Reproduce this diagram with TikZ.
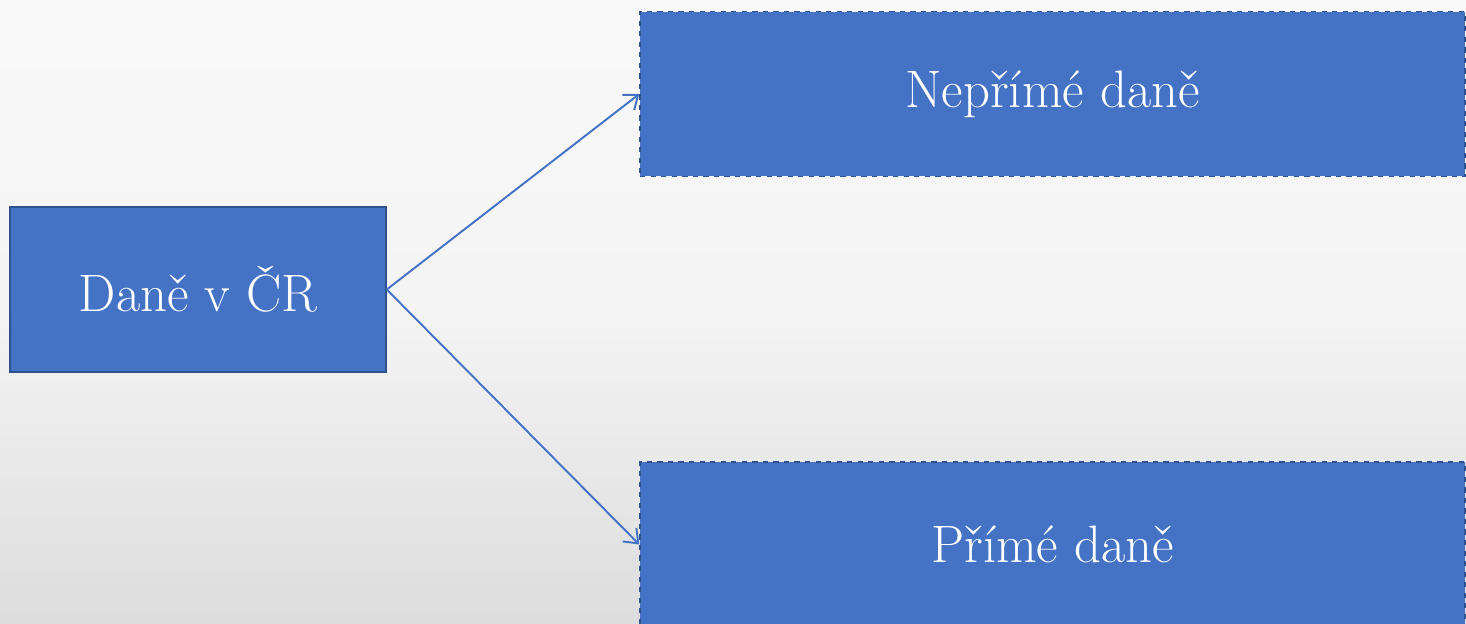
\documentclass[tikz,border=0pt]{standalone}
\usepackage{fontspec}
\usetikzlibrary{arrows.meta}
\definecolor{boxblue}{HTML}{4472C4}
\definecolor{edgeblue}{HTML}{2F528F}
\tikzset{
  taxbox/.style={rectangle, fill=boxblue, draw=edgeblue, line width=0.9pt,
    text=white, font=\fontsize{30}{34}\selectfont, inner sep=0pt},
  link/.style={draw=boxblue, line width=1.1pt, -{Straight Barb[length=7pt,width=11pt]}}
}
\begin{document}
\begin{tikzpicture}[x=0.02cm, y=-0.02cm]
        % background
        \useasboundingbox (0,0) rectangle (1466,624);
        \clip (0,0) rectangle (1466,624);
        \shade[top color=gray!5, bottom color=gray!27, middle color=gray!9] (0,0) rectangle (1466,624);

        % main box
        \node[taxbox, minimum width=7.52cm, minimum height=3.3cm] (dane) at (198,289.5) {Daně v ČR};

        % the two kinds
        \node[taxbox, dashed, minimum width=16.5cm, minimum height=3.3cm] (neprime) at (1052.5,94) {Nepřímé daně};
        \node[taxbox, dashed, minimum width=16.5cm, minimum height=3.3cm] (prime) at (1052.5,544.5) {Přímé daně};

        % connections
        \draw[link] (dane.east) -- (neprime.west);
        \draw[link] (dane.east) -- (prime.west);
\end{tikzpicture}
\end{document}
